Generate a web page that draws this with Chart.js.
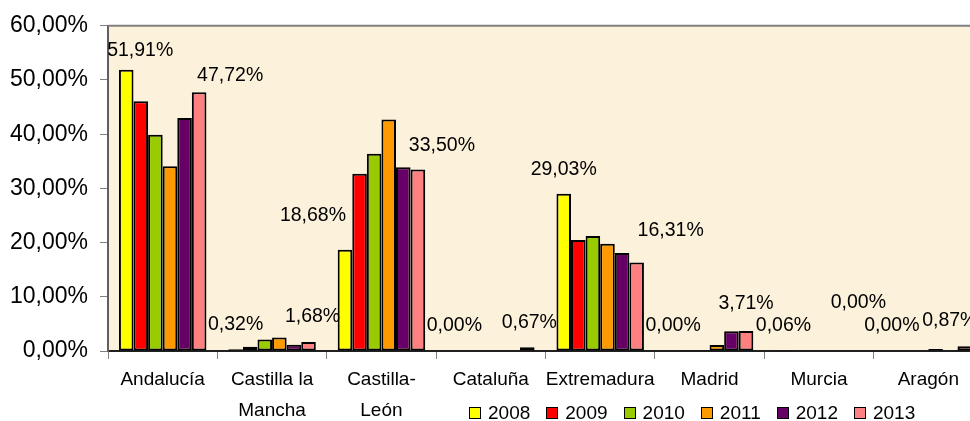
<!DOCTYPE html>
<html>
<head>
<meta charset="utf-8">
<script src="https://cdn.jsdelivr.net/npm/chart.js@4/dist/chart.umd.min.js"></script>
<style>
    body { margin: 0; background: #fff; overflow: hidden; }
    #wrap { position: relative; width: 1000px; height: 421px; }
    #legend { position: absolute; left: 469px; top: 401px; display: flex; font: 19px "Liberation Sans", Arial, sans-serif; color: #000; line-height: 24px; }
    #legend span.item { display: flex; align-items: center; margin-right: 16px; }
    #legend span.box { width: 10px; height: 10px; border: 1px solid #000; margin-right: 7px; }
</style>
</head>
<body>
<div id="wrap">
    <canvas id="chart"></canvas>
    <div id="legend"></div>
</div>
<script>
// Donnees
const categories = ['Andalucía', ['Castilla la', 'Mancha'], ['Castilla-', 'León'], 'Cataluña', 'Extremadura', 'Madrid', 'Murcia', 'Aragón'];
const years = ['2008', '2009', '2010', '2011', '2012', '2013'];
const v2008 = [51.91, 0.32, 18.68, 0.00, 29.03, 0.00, 0.06, 0.00];
const v2009 = [46.1, 0.8, 32.7, 0, 20.5, 0.2, 0, 0];
const v2010 = [39.9, 2.1, 36.4, 0, 21.2, 0.2, 0, 0];
const v2011 = [34.1, 2.5, 42.7, 0, 19.8, 1.1, 0, 0.35];
const v2012 = [43.0, 1.15, 33.9, 0, 18.1, 3.65, 0, 0];
const v2013 = [47.72, 1.68, 33.50, 0.67, 16.31, 3.71, 0.00, 0.87];
const yTicks = [0, 10, 20, 30, 40, 50, 60];

const colors = ['#FFFF00', '#FF0000', '#99CC00', '#FF9900', '#660066', '#FF8080'];
const FONT = '"Liberation Sans", Arial, sans-serif';

// Decalage des etiquettes (placement manuel comme dans l'original)
const labelShift = {
    0: { dx: [14, 0, -32, 0, 0, 0, 1, 0], rise: [19, 25, 34, 25, 24, 25, 25, 25] },
    5: { dx: [31, 4, 24, 2, 34, 0, 3, -15], rise: [17, 25, 24, 25, 32, 27, 48, 26] }
};

function pct(v) {
    return v.toFixed(2).replace('.', ',') + '%';
}

const plotBg = {
    id: 'plotBg',
    beforeDraw(chart) {
        const a = chart.chartArea, ctx = chart.ctx;
        ctx.save();
        ctx.fillStyle = '#FCF1DA';
        ctx.fillRect(a.left, a.top, a.right - a.left, a.bottom - a.top);
        ctx.restore();
    },
    afterDraw(chart) {
        const a = chart.chartArea, ctx = chart.ctx;
        ctx.save();
        ctx.strokeStyle = '#808080';
        ctx.lineWidth = 2;
        ctx.beginPath();
        ctx.moveTo(a.left, a.top);
        ctx.lineTo(a.right, a.top);
        ctx.lineTo(a.right, a.bottom);
        ctx.stroke();
        ctx.restore();
    }
};

const valueLabels = {
    id: 'valueLabels',
    afterDatasetsDraw(chart) {
        const ctx = chart.ctx;
        ctx.save();
        ctx.font = '19.5px ' + FONT;
        ctx.fillStyle = '#000';
        ctx.textAlign = 'center';
        ctx.textBaseline = 'middle';
        Object.keys(labelShift).forEach(function(di) {
            const meta = chart.getDatasetMeta(di);
            const ds = chart.data.datasets[di];
            meta.data.forEach(function(bar, i) {
                const s = labelShift[di];
                ctx.fillText(pct(ds.data[i]), bar.x + s.dx[i], bar.y - s.rise[i]);
            });
        });
        ctx.restore();
    }
};

const series = [v2008, v2009, v2010, v2011, v2012, v2013];

const chart = new Chart(document.getElementById('chart'), {
    type: 'bar',
    data: {
        labels: categories,
        datasets: series.map(function(d, i) {
            return {
                label: years[i],
                data: d,
                backgroundColor: colors[i],
                borderColor: '#000',
                borderWidth: 2,
                borderSkipped: false,
                categoryPercentage: 0.8,
                barPercentage: 1.0
            };
        })
    },
    options: {
        responsive: true,
        maintainAspectRatio: false,
        animation: false,
        layout: { padding: { top: 23, right: 17, left: 0, bottom: 0 } },
        plugins: {
            legend: { display: false },
            tooltip: { enabled: false }
        },
        scales: {
            x: {
                grid: { display: true, drawOnChartArea: false, offset: true, tickLength: 8, color: '#808080' },
                border: { color: '#202020', width: 2 },
                ticks: {
                    color: '#000',
                    font: { family: FONT, size: 19, lineHeight: 1.6 },
                    padding: 6,
                    maxRotation: 0,
                    autoSkip: false
                },
                afterFit(scale) { scale.height = 70; }
            },
            y: {
                min: 0,
                max: 60,
                afterBuildTicks(scale) { scale.ticks = yTicks.map(function(v) { return { value: v }; }); },
                grid: { display: true, drawOnChartArea: false, tickLength: 8, color: '#808080' },
                border: { color: '#606060', width: 2 },
                ticks: {
                    color: '#000',
                    font: { family: FONT, size: 23 },
                    padding: 12,
                    callback: function(v) { return pct(v); }
                },
                afterFit(scale) { scale.width = 108; }
            }
        }
    },
    plugins: [plotBg, valueLabels]
});

// Legende HTML
const legend = document.getElementById('legend');
chart.data.datasets.forEach(function(ds) {
    const item = document.createElement('span');
    item.className = 'item';
    const box = document.createElement('span');
    box.className = 'box';
    box.style.background = ds.backgroundColor;
    item.appendChild(box);
    item.appendChild(document.createTextNode(ds.label));
    legend.appendChild(item);
});
</script>
</body>
</html>
